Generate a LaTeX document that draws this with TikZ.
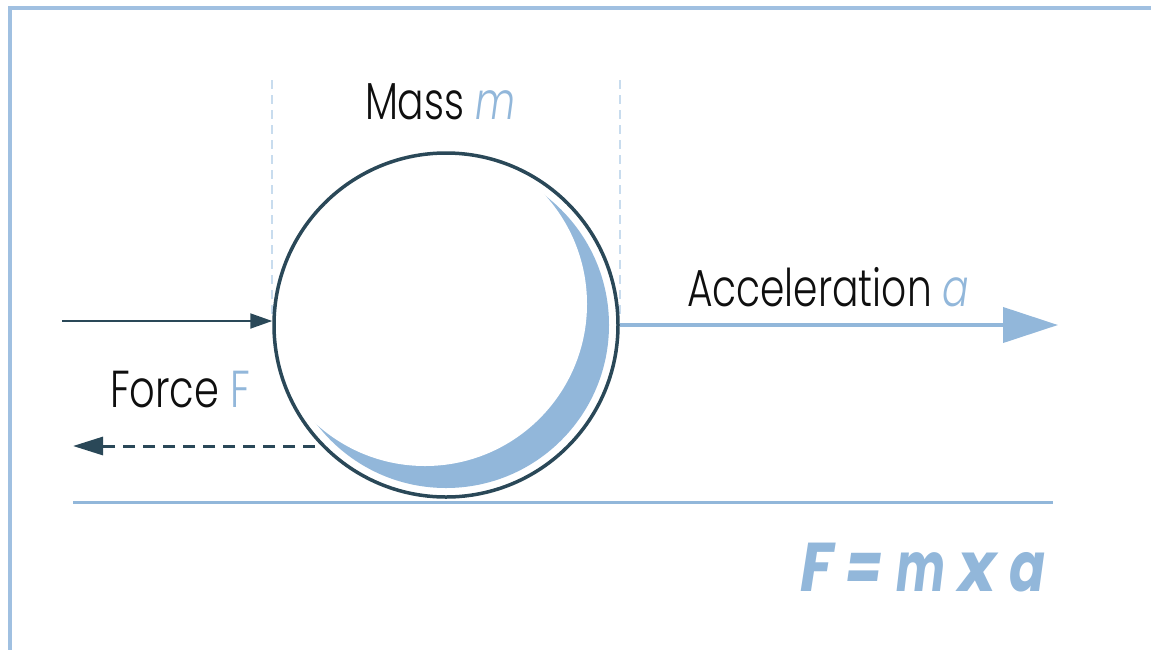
\documentclass[tikz,border=0pt]{standalone}
\usepackage{fontspec}
\setmainfont{Poppins}[UprightFont=* Light, ItalicFont=* Light Italic, BoldFont=* Bold, BoldItalicFont=* Bold Italic]
\usetikzlibrary{arrows.meta}
\definecolor{lb}{RGB}{146,183,218}
\definecolor{frameb}{RGB}{160,192,225}
\definecolor{navy}{RGB}{42,72,88}
\definecolor{guide}{RGB}{200,220,238}
\definecolor{ink}{RGB}{15,15,15}
\newcommand\fitw[2]{\resizebox{#1}{\height}{#2}}
\begin{document}
\begin{tikzpicture}[x=1pt,y=-1pt,
  lbl/.style={anchor=base west, inner sep=0pt, outer sep=0pt, text=ink, font=\fontsize{52pt}{60pt}\selectfont},
  frameline/.style={draw=frameb, line width=4.5pt},
  guideline/.style={draw=guide, line width=1.5pt, dash pattern=on 9pt off 6pt},
  massc/.style={circle, draw=navy, line width=3.5pt, fill=white, minimum size=344pt, inner sep=0pt},
  pusharrow/.style={draw=navy, line width=2pt, -{Triangle[length=22pt,width=15pt]}},
  backarrow/.style={draw=navy, line width=3pt, dash pattern=on 12pt off 8pt, -{Triangle[length=30pt,width=18pt]}},
  accarrow/.style={draw=lb, line width=4pt, -{Triangle[length=55pt,width=35pt]}},
  groundline/.style={draw=lb, line width=3pt}]
\useasboundingbox (0,0) rectangle (1151,649);
% frame
\coordinate (fbl) at (10,652);
\coordinate (ftl) at (10,8);
\coordinate (ftr) at (1154,8);
\draw[frameline] (fbl) -- (ftl) -- (ftr);
% guides
\coordinate (g1t) at (272,80);
\coordinate (g1b) at (272,318);
\coordinate (g2t) at (620,80);
\coordinate (g2b) at (620,318);
\draw[guideline] (g1t) -- (g1b);
\draw[guideline] (g2t) -- (g2b);
% ground
\coordinate (gl) at (73,502);
\coordinate (gr) at (1053,502);
\draw[groundline] (gl) -- (gr);
% mass
\node[massc] (mass) at (446,325) {};
\begin{scope}
  \clip (446,325) circle (169pt);
  \fill[lb] (446,325) circle (163pt);
  \fill[white] (425,304) circle (162pt);
\end{scope}
% arrows
\coordinate (pushstart) at (62,321);
\draw[pusharrow] (pushstart) -- (mass.west |- pushstart);
\coordinate (backstart) at (315,446);
\coordinate (backend) at (73,446);
\draw[backarrow] (backstart) -- (backend);
\coordinate (accend) at (1058,325);
\draw[accarrow] (mass.east) -- (accend);
% labels
\node[lbl] (masslbl) at (365,119) {\fitw{150pt}{Mass \textcolor{lb}{\itshape m}}};
\node[lbl] (forcelbl) at (110,407) {\fitw{140pt}{Force \textcolor{lb}{F}}};
\node[lbl] (acclbl) at (687,306) {\fitw{282pt}{Acceleration \textcolor{lb}{\itshape a}}};
\node[lbl, text=lb, font=\fontsize{69pt}{80pt}\selectfont\bfseries\itshape] (law) at (800,591) {\fitw{33pt}{F}\hspace{12pt}\fitw{37pt}{=}\hspace{14pt}\fitw{49pt}{m}\hspace{13pt}\fitw{38pt}{x}\hspace{13pt}\fitw{36pt}{a}};
\end{tikzpicture}
\end{document}
